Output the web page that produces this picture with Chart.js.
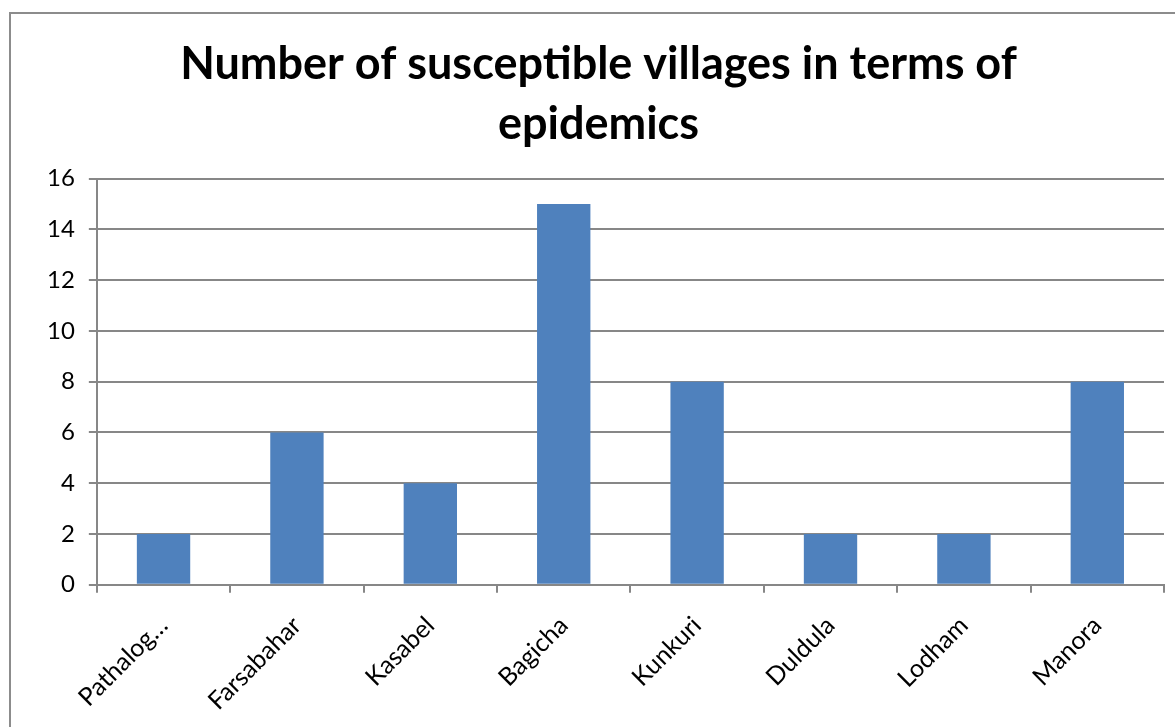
<!DOCTYPE html>
<html>
<head>
<meta charset="utf-8">
<script src="https://cdn.jsdelivr.net/npm/chart.js@4"></script>
<style>
	html, body { margin: 0; padding: 0; background: #fff; }
	#box {
		position: absolute; left: 9px; top: 12px;
		width: 1166px; height: 715px;
		border-left: 2px solid #8c8c8c; border-top: 2px solid #8c8c8c;
	}
	#chart_box { position: absolute; left: 0; top: 0; width: 1164px; height: 713px; }
</style>
</head>
<body>
<div id="box"><div id="chart_box"><canvas id="villages_Chart"></canvas></div></div>
<script>
// 데이터
const categories = ['Pathalog…', 'Farsabahar', 'Kasabel', 'Bagicha', 'Kunkuri', 'Duldula', 'Lodham', 'Manora'];
const villageCounts = [2, 6, 4, 15, 8, 2, 2, 8];
const titleLines = ['Number of susceptible villages in terms of', 'epidemics'];
const yTicks = { min: 0, max: 16, step: 2 };

const FONT = 'Lato, "Open Sans", sans-serif';
const gridColor = '#878787';

var context = document.getElementById('villages_Chart').getContext('2d');
var villages_Chart = new Chart(context, {
	type: 'bar',
	data: {
		labels: categories,
		datasets: [{
			label: 'Villages',
			data: villageCounts,
			backgroundColor: '#4f81bd',
			barPercentage: 0.4,
			categoryPercentage: 1.0
		}]
	},
	options: {
		responsive: true,
		maintainAspectRatio: false,
		animation: false,
		layout: { padding: { left: 22, right: 11, top: 20, bottom: -7 } },
		plugins: {
			legend: { display: false },
			tooltip: { enabled: false },
			title: {
				display: true,
				text: titleLines,
				color: '#000',
				font: { family: FONT, size: 45, weight: 'bold', lineHeight: 1.34 },
				padding: { top: 0, bottom: 24 }
			}
		},
		scales: {
			x: {
				grid: { display: true, drawOnChartArea: false, offset: true, color: gridColor, tickLength: 8, lineWidth: 2 },
				border: { color: gridColor, width: 2 },
				ticks: { color: '#000', font: { family: FONT, size: 25 }, maxRotation: 45, minRotation: 45, padding: 18 }
			},
			y: {
				min: yTicks.min,
				max: yTicks.max,
				ticks: { stepSize: yTicks.step, color: '#000', font: { family: FONT, size: 24 }, padding: 14 },
				grid: { color: gridColor, tickLength: 8, lineWidth: 2 },
				border: { color: gridColor, width: 2 }
			}
		}
	}
});
</script>
</body>
</html>
